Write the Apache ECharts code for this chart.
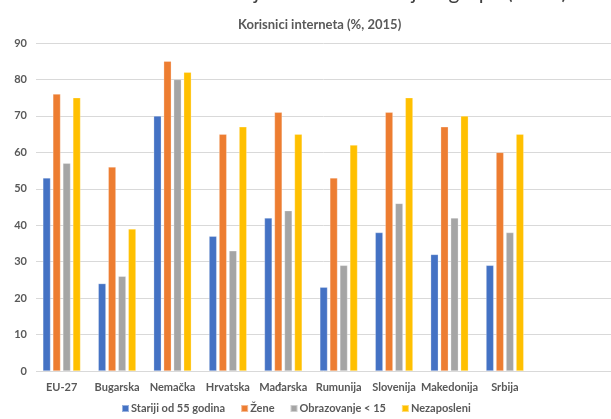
<!DOCTYPE html>
<html>
<head>
<meta charset="utf-8">
<script src="https://cdn.jsdelivr.net/npm/echarts@6/dist/echarts.min.js"></script>
<style>
  html, body { margin: 0; padding: 0; background: #fff; }
  #chart { width: 611px; height: 419px; }
</style>
</head>
<body>
<div id="chart"></div>
<script>
// Countries along the x axis
const categories = ['EU-27', 'Bugarska', 'Nemačka', 'Hrvatska', 'Mađarska', 'Rumunija', 'Slovenija', 'Makedonija', 'Srbija'];

// Share of internet users (%) per group
const stariji = [53, 24, 70, 37, 42, 23, 38, 32, 29];
const zene = [76, 56, 85, 65, 71, 53, 71, 67, 60];
const obrazovanje = [57, 26, 80, 33, 44, 29, 46, 42, 38];
const nezaposleni = [75, 39, 82, 67, 65, 62, 75, 70, 65];

const seriesNames = ['Stariji od 55 godina', 'Žene', 'Obrazovanje < 15', 'Nezaposleni'];
const seriesColors = ['#4472C4', '#ED7D31', '#A5A5A5', '#FFC000'];
const yTicks = { min: 0, max: 90, interval: 10 };

const FONT = 'Lato';
const GREY = '#595959';

const chart = echarts.init(document.getElementById('chart'), null, { renderer: 'canvas' });

const seriesData = [stariji, zene, obrazovanje, nezaposleni];

chart.setOption({
  animation: false,
  backgroundColor: '#ffffff',
  textStyle: { fontFamily: FONT },
  graphic: [{
    type: 'text',
    right: 44,
    top: -18,
    style: {
      text: 'Korišćenje interneta – ranjive grupe (2015)',
      fontFamily: FONT,
      fontSize: 21,
      fill: '#404040'
    }
  }],
  title: {
    text: 'Korisnici interneta (%, 2015)',
    left: 233,
    top: 13,
    textStyle: { fontFamily: FONT, fontSize: 13, fontWeight: 'bold', color: GREY }
  },
  legend: {
    data: seriesNames,
    left: 116,
    top: 398,
    itemWidth: 7,
    itemHeight: 7,
    itemGap: 15,
    icon: 'rect',
    textStyle: { fontFamily: FONT, fontSize: 11, fontWeight: 'bold', color: GREY, padding: [0, 0, 0, -3] }
  },
  grid: [
    { left: 34, width: 498.6, top: 43, bottom: 48, containLabel: false },
    { left: 36, right: 0, top: 43, bottom: 48, containLabel: false }
  ],
  xAxis: [
    {
      type: 'category',
      gridIndex: 0,
      data: categories,
      axisLine: { show: false },
      axisTick: { show: false },
      axisLabel: { interval: 0, fontFamily: FONT, fontSize: 11, fontWeight: 'bold', color: GREY, margin: 11 }
    },
    { type: 'value', gridIndex: 1, show: false, min: 0, max: 1 }
  ],
  yAxis: [
    {
      type: 'value',
      gridIndex: 0,
      min: yTicks.min, max: yTicks.max, interval: yTicks.interval,
      axisLine: { show: false },
      axisTick: { show: false },
      splitLine: { show: false },
      axisLabel: { fontFamily: FONT, fontSize: 11, fontWeight: 'bold', color: GREY, margin: 7 }
    },
    {
      type: 'value',
      gridIndex: 1,
      min: yTicks.min, max: yTicks.max, interval: yTicks.interval,
      axisLine: { show: false },
      axisTick: { show: false },
      axisLabel: { show: false },
      splitLine: { show: true, lineStyle: { color: '#d9d9d9', width: 1 } }
    }
  ],
  series: seriesNames.map((name, i) => ({
    name,
    type: 'bar',
    xAxisIndex: 0,
    yAxisIndex: 0,
    data: seriesData[i],
    barWidth: 7.7,
    barGap: '30%',
    itemStyle: { color: seriesColors[i], borderColor: 'rgba(255,255,255,0.45)', borderWidth: 0.6 },
    z: 3
  }))
});
</script>
</body>
</html>
